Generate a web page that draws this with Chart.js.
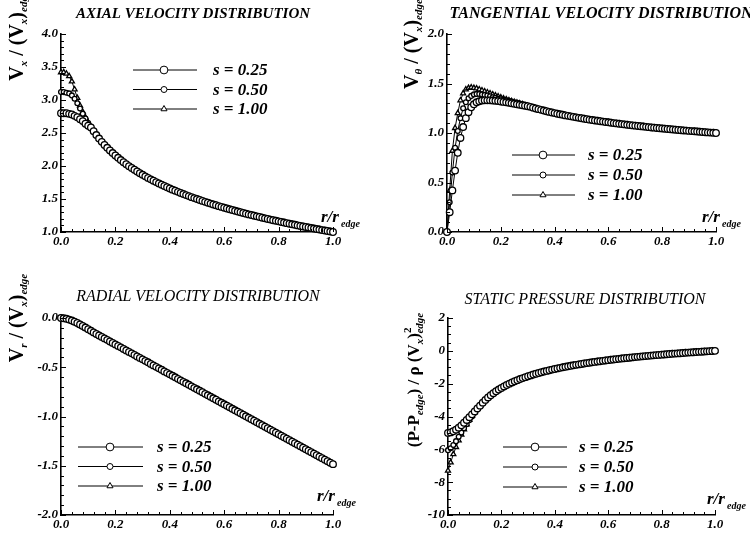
<!DOCTYPE html>
<html>
<head>
<meta charset="utf-8">
<script src="https://cdn.jsdelivr.net/npm/chart.js@4.4.0/dist/chart.umd.min.js"></script>
<style>
  body { margin: 0; background: #fff; }
  #wrap { position: relative; width: 750px; height: 540px; overflow: hidden; }
  .cell { position: absolute; width: 375px; height: 270px; }
  .ytitle {
    position: absolute; white-space: nowrap; color: #000;
    font: bold 20px "Liberation Serif", serif;
    transform: translate(-50%, -50%) rotate(-90deg);
  }
  .ytitle sub { font-size: 11px; font-style: italic; vertical-align: -4px; }
  .ytitle sup { font-size: 11px; vertical-align: 8px; }
  .xlab { position: absolute; white-space: nowrap; font: bold italic 17px "Liberation Serif", serif; }
  .xlab sub { font-size: 10px; vertical-align: -5px; margin-left: 2px; }
</style>
</head>
<body>
<div id="wrap">
  <div class="cell" style="left:0;top:0"><canvas id="c1" width="375" height="270"></canvas></div>
  <div class="cell" style="left:375px;top:0"><canvas id="c2" width="375" height="270"></canvas></div>
  <div class="cell" style="left:0;top:270px"><canvas id="c3" width="375" height="270"></canvas></div>
  <div class="cell" style="left:375px;top:270px"><canvas id="c4" width="375" height="270"></canvas></div>

  <div class="ytitle" style="left:17px;top:36px">V<sub>x</sub> / (V<sub>x</sub>)<sub>edge</sub></div>
  <div class="ytitle" style="left:412px;top:44px">V<sub>θ</sub> / (V<sub>x</sub>)<sub>edge</sub></div>
  <div class="ytitle" style="left:17px;top:318px">V<sub>r</sub> / (V<sub>x</sub>)<sub>edge</sub></div>
  <div class="ytitle" style="left:413px;top:380px;font-size:17px">(P-P<sub>edge</sub>) / ρ (V<sub>x</sub>)<sup>2</sup><sub style="margin-left:-6px">edge</sub></div>

  <div class="xlab" style="left:321px;top:207px">r/r<sub>edge</sub></div>
  <div class="xlab" style="left:702px;top:207px">r/r<sub>edge</sub></div>
  <div class="xlab" style="left:317px;top:486px">r/r<sub>edge</sub></div>
  <div class="xlab" style="left:707px;top:489px">r/r<sub>edge</sub></div>
</div>
<script>
// radial stations r/r_edge
const r = [
  0.00, 0.01, 0.02, 0.03, 0.04, 0.05, 0.06, 0.07, 0.08, 0.09,
  0.10, 0.11, 0.12, 0.13, 0.14, 0.15, 0.16, 0.17, 0.18, 0.19,
  0.20, 0.21, 0.22, 0.23, 0.24, 0.25, 0.26, 0.27, 0.28, 0.29,
  0.30, 0.31, 0.32, 0.33, 0.34, 0.35, 0.36, 0.37, 0.38, 0.39,
  0.40, 0.41, 0.42, 0.43, 0.44, 0.45, 0.46, 0.47, 0.48, 0.49,
  0.50, 0.51, 0.52, 0.53, 0.54, 0.55, 0.56, 0.57, 0.58, 0.59,
  0.60, 0.61, 0.62, 0.63, 0.64, 0.65, 0.66, 0.67, 0.68, 0.69,
  0.70, 0.71, 0.72, 0.73, 0.74, 0.75, 0.76, 0.77, 0.78, 0.79,
  0.80, 0.81, 0.82, 0.83, 0.84, 0.85, 0.86, 0.87, 0.88, 0.89,
  0.90, 0.91, 0.92, 0.93, 0.94, 0.95, 0.96, 0.97, 0.98, 0.99,
  1.00
];

// axial velocity: core r = 0..0.11 per s, then common part r = 0.12..1.00
const axialCore25  = [2.80, 2.80, 2.80, 2.79, 2.78, 2.76, 2.74, 2.71, 2.68, 2.64, 2.61, 2.585];
const axialCore50  = [3.12, 3.12, 3.11, 3.10, 3.07, 3.02, 2.95, 2.87, 2.79, 2.72, 2.65, 2.589];
const axialCore100 = [3.42, 3.42, 3.40, 3.36, 3.28, 3.16, 3.03, 2.915, 2.82, 2.735, 2.658, 2.589];
const axialOuter = [
  2.527, 2.469, 2.416, 2.366, 2.319, 2.276, 2.235, 2.196,
  2.159, 2.124, 2.090, 2.058, 2.028, 1.998, 1.970, 1.943, 1.917, 1.891,
  1.867, 1.843, 1.820, 1.798, 1.777, 1.756, 1.736, 1.716, 1.697, 1.678,
  1.660, 1.642, 1.625, 1.608, 1.591, 1.575, 1.559, 1.544, 1.528, 1.514,
  1.499, 1.485, 1.471, 1.457, 1.444, 1.430, 1.417, 1.405, 1.392, 1.380,
  1.368, 1.356, 1.344, 1.333, 1.321, 1.310, 1.299, 1.288, 1.278, 1.267,
  1.257, 1.247, 1.237, 1.227, 1.217, 1.207, 1.198, 1.188, 1.179, 1.170,
  1.161, 1.152, 1.143, 1.134, 1.126, 1.117, 1.109, 1.100, 1.092, 1.084,
  1.076, 1.068, 1.060, 1.052, 1.045, 1.037, 1.029, 1.022, 1.015, 1.007,
  1.000
];

// tangential velocity: core r = 0..0.30, then common part r = 0.31..1.00
const tangCore25 = [0, 0.20, 0.42, 0.62, 0.80, 0.95, 1.06, 1.15, 1.21, 1.26, 1.29, 1.31, 1.32, 1.328, 1.33, 1.33,
  1.33, 1.328, 1.325, 1.322, 1.318, 1.314, 1.310, 1.305, 1.300, 1.295, 1.290, 1.285, 1.280, 1.276, 1.270];
const tangCore50 = [0, 0.30, 0.60, 0.85, 1.02, 1.15, 1.25, 1.31, 1.35, 1.375, 1.39, 1.395, 1.395, 1.39, 1.385, 1.38,
  1.37, 1.36, 1.355, 1.345, 1.34, 1.335, 1.33, 1.325, 1.318, 1.311, 1.304, 1.297, 1.290, 1.281, 1.272];
const tangCore100 = [0, 0.42, 0.82, 1.05, 1.20, 1.33, 1.40, 1.44, 1.455, 1.46, 1.455, 1.45, 1.44, 1.43, 1.42, 1.41,
  1.40, 1.39, 1.38, 1.37, 1.36, 1.35, 1.34, 1.33, 1.322, 1.314, 1.306, 1.298, 1.290, 1.281, 1.272];
const tangOuter = [
  1.264, 1.256, 1.248, 1.241, 1.234, 1.227, 1.220, 1.213, 1.207,
  1.201, 1.195, 1.189, 1.184, 1.178, 1.173, 1.168, 1.163, 1.158, 1.153,
  1.149, 1.144, 1.140, 1.135, 1.131, 1.127, 1.123, 1.119, 1.115, 1.111,
  1.108, 1.104, 1.100, 1.097, 1.093, 1.090, 1.087, 1.083, 1.080, 1.077,
  1.074, 1.071, 1.068, 1.065, 1.062, 1.059, 1.056, 1.054, 1.051, 1.048,
  1.046, 1.043, 1.041, 1.038, 1.036, 1.033, 1.031, 1.028, 1.026, 1.024,
  1.021, 1.019, 1.017, 1.015, 1.012, 1.010, 1.008, 1.006, 1.004, 1.002,
  1.000
];

// radial velocity: core r = 0..0.11, then common part r = 0.12..1.00
const radCore25  = [0, -0.003, -0.008, -0.016, -0.026, -0.038, -0.051, -0.066, -0.081, -0.097, -0.113, -0.130];
const radCore50  = [0, -0.003, -0.009, -0.018, -0.029, -0.042, -0.056, -0.071, -0.086, -0.101, -0.116, -0.131];
const radCore100 = [0, -0.004, -0.011, -0.021, -0.033, -0.047, -0.061, -0.076, -0.091, -0.106, -0.121, -0.134];
const radOuter = [
  -0.146, -0.162, -0.177, -0.192, -0.207, -0.222, -0.238, -0.253,
  -0.268, -0.283, -0.298, -0.314, -0.329, -0.344, -0.359, -0.374, -0.390, -0.405,
  -0.420, -0.435, -0.450, -0.466, -0.481, -0.496, -0.511, -0.526, -0.542, -0.557,
  -0.572, -0.587, -0.602, -0.618, -0.633, -0.648, -0.663, -0.678, -0.694, -0.709,
  -0.724, -0.739, -0.754, -0.770, -0.785, -0.800, -0.815, -0.830, -0.846, -0.861,
  -0.876, -0.891, -0.906, -0.922, -0.937, -0.952, -0.967, -0.982, -0.998, -1.013,
  -1.028, -1.043, -1.058, -1.074, -1.089, -1.104, -1.119, -1.134, -1.150, -1.165,
  -1.180, -1.195, -1.210, -1.226, -1.241, -1.256, -1.271, -1.286, -1.302, -1.317,
  -1.332, -1.347, -1.362, -1.378, -1.393, -1.408, -1.423, -1.438, -1.454, -1.469,
  -1.484
];

// static pressure: core r = 0..0.12, then common part r = 0.13..1.00
const presCore25  = [-5.00, -4.97, -4.90, -4.80, -4.68, -4.54, -4.38, -4.21, -4.04, -3.87, -3.69, -3.51, -3.34];
const presCore50  = [-6.05, -5.93, -5.74, -5.50, -5.24, -4.98, -4.72, -4.47, -4.23, -4.00, -3.77, -3.55, -3.34];
const presCore100 = [-7.30, -6.80, -6.30, -5.86, -5.46, -5.10, -4.78, -4.48, -4.21, -3.96, -3.73, -3.53, -3.34];
const presOuter = [
  -3.155, -2.990, -2.840, -2.705, -2.578, -2.463, -2.357,
  -2.260, -2.167, -2.081, -2.000, -1.924, -1.853, -1.785, -1.720, -1.660, -1.602,
  -1.547, -1.495, -1.443, -1.395, -1.349, -1.305, -1.262, -1.221, -1.182, -1.143,
  -1.107, -1.071, -1.037, -1.004, -0.972, -0.941, -0.911, -0.882, -0.854, -0.825,
  -0.799, -0.773, -0.747, -0.723, -0.699, -0.675, -0.653, -0.630, -0.609, -0.587,
  -0.567, -0.547, -0.527, -0.508, -0.488, -0.470, -0.452, -0.434, -0.417, -0.400,
  -0.383, -0.367, -0.351, -0.335, -0.320, -0.305, -0.290, -0.276, -0.261, -0.247,
  -0.233, -0.220, -0.207, -0.193, -0.181, -0.168, -0.155, -0.143, -0.131, -0.119,
  -0.108, -0.096, -0.085, -0.074, -0.063, -0.052, -0.041, -0.031, -0.020, -0.010,
  0
];

const seriesLabels = ['s = 0.25', 's = 0.50', 's = 1.00'];
const xTicks = [0, 0.2, 0.4, 0.6, 0.8, 1.0];

const SERIF = '"Liberation Serif", "Times New Roman", serif';
const markers = [
  { pointStyle: 'circle', radius: 3.3 },
  { pointStyle: 'circle', radius: 2.4 },
  { pointStyle: 'triangle', radius: 2.9 }
];

function toPoints(ys) {
  return ys.map(function (y, i) { return { x: r[i], y: y }; });
}

function makeSets(list) {
  return list.map(function (ys, k) {
    return {
      label: seriesLabels[k],
      data: toPoints(ys),
      borderColor: '#000',
      borderWidth: 1,
      tension: 0,
      pointStyle: markers[k].pointStyle,
      pointRadius: markers[k].radius,
      pointBackgroundColor: '#fff',
      pointBorderColor: '#000',
      pointBorderWidth: 1.3,
      clip: false
    };
  });
}

// titles, legend inside the plot and inward tick marks
const decor = {
  id: 'decor',
  afterDraw(chart, args, o) {
    const ctx = chart.ctx;
    const xs = chart.scales.x, ys = chart.scales.y;
    const area = chart.chartArea;
    ctx.save();
    ctx.strokeStyle = '#000';
    ctx.lineWidth = 1;
    // x ticks every 0.04
    for (let i = 0; i <= 25; i++) {
      const px = Math.round(xs.getPixelForValue(i * 0.04)) + 0.5;
      const len = (i % 5 === 0) ? 5 : 3;
      ctx.beginPath();
      ctx.moveTo(px, area.bottom);
      ctx.lineTo(px, area.bottom - len);
      ctx.stroke();
    }
    // y ticks
    const n = Math.round((o.yMax - o.yMin) / o.yMinor);
    for (let i = 0; i <= n; i++) {
      const v = o.yMin + i * o.yMinor;
      const q = v / o.yMajor;
      const len = Math.abs(q - Math.round(q)) < 1e-6 ? 5 : 3;
      const py = Math.round(ys.getPixelForValue(v)) + 0.5;
      ctx.beginPath();
      ctx.moveTo(area.left, py);
      ctx.lineTo(area.left + len, py);
      ctx.stroke();
    }
    // title
    ctx.fillStyle = '#000';
    ctx.font = o.titleFont;
    ctx.textAlign = 'center';
    ctx.textBaseline = 'middle';
    ctx.fillText(o.title, o.titleX, o.titleY);
    // legend
    ctx.textAlign = 'left';
    ctx.font = 'italic bold 17px ' + SERIF;
    for (let k = 0; k < 3; k++) {
      const y = o.leg.y + k * o.leg.dy;
      ctx.beginPath();
      ctx.moveTo(o.leg.x1, y);
      ctx.lineTo(o.leg.x2, y);
      ctx.stroke();
      ctx.fillStyle = '#fff';
      Chart.helpers.drawPoint(ctx, { pointStyle: markers[k].pointStyle, radius: markers[k].radius + 0.6, borderWidth: 1, rotation: 0 }, o.leg.xm, y);
      ctx.fillStyle = '#000';
      ctx.fillText(seriesLabels[k], o.leg.xt, y + 1);
    }
    ctx.restore();
  }
};

function makePanel(id, sets, c) {
  const tickFont = { family: SERIF, size: 13, style: 'italic', weight: 'bold' };
  return new Chart(document.getElementById(id), {
    type: 'line',
    data: { datasets: sets },
    plugins: [decor],
    options: {
      responsive: false,
      animation: false,
      devicePixelRatio: 1,
      layout: {
        padding: { left: c.area[0] - 40, top: c.area[1], right: 375 - c.area[2], bottom: 270 - c.area[3] - 20 }
      },
      plugins: {
        legend: { display: false },
        tooltip: { enabled: false },
        decor: {
          title: c.title, titleFont: c.titleFont, titleX: c.titleX, titleY: c.titleY,
          leg: c.leg, yMin: c.yMin, yMax: c.yMax, yMinor: c.yMinor, yMajor: c.yStep
        }
      },
      scales: {
        x: {
          type: 'linear', min: 0, max: 1,
          afterFit: function (s) { s.height = 20; },
          afterBuildTicks: function (s) { s.ticks = xTicks.map(function (v) { return { value: v }; }); },
          grid: { drawOnChartArea: false, drawTicks: false },
          border: { display: true, color: '#000', width: 1.6 },
          ticks: { color: '#000', font: tickFont, padding: 2, maxRotation: 0,
            callback: function (v) { return v.toFixed(1); } }
        },
        y: {
          type: 'linear', min: c.yMin, max: c.yMax,
          afterFit: function (s) { s.width = 40; },
          grid: { drawOnChartArea: false, drawTicks: false },
          border: { display: true, color: '#000', width: 1.6 },
          ticks: { color: '#000', font: tickFont, padding: 3, stepSize: c.yStep,
            callback: function (v) { return c.yDigits ? v.toFixed(c.yDigits) : String(v); } }
        }
      }
    }
  });
}

makePanel('c1', makeSets([
  axialCore25.concat(axialOuter), axialCore50.concat(axialOuter), axialCore100.concat(axialOuter)
]), {
  area: [61, 34, 333, 232], yMin: 1, yMax: 4, yStep: 0.5, yMinor: 0.1, yDigits: 1,
  title: 'AXIAL VELOCITY DISTRIBUTION', titleFont: 'italic bold 15px ' + SERIF, titleX: 193, titleY: 14,
  leg: { x1: 133, x2: 197, xm: 164, xt: 213, y: 70, dy: 19.5 }
});

makePanel('c2', makeSets([
  tangCore25.concat(tangOuter), tangCore50.concat(tangOuter), tangCore100.concat(tangOuter)
]), {
  area: [72, 34, 341, 232], yMin: 0, yMax: 2, yStep: 0.5, yMinor: 0.1, yDigits: 1,
  title: 'TANGENTIAL VELOCITY DISTRIBUTION', titleFont: 'italic bold 16px ' + SERIF, titleX: 226, titleY: 14,
  leg: { x1: 137, x2: 200, xm: 168, xt: 213, y: 155, dy: 20 }
});

makePanel('c3', makeSets([
  radCore25.concat(radOuter), radCore50.concat(radOuter), radCore100.concat(radOuter)
]), {
  area: [61, 48, 333, 245], yMin: -2, yMax: 0, yStep: 0.5, yMinor: 0.1, yDigits: 1,
  title: 'RADIAL VELOCITY DISTRIBUTION', titleFont: 'italic 16px ' + SERIF, titleX: 198, titleY: 27,
  leg: { x1: 78, x2: 143, xm: 110, xt: 157, y: 177, dy: 19.5 }
});

makePanel('c4', makeSets([
  presCore25.concat(presOuter), presCore50.concat(presOuter), presCore100.concat(presOuter)
]), {
  area: [73, 48, 340, 245], yMin: -10, yMax: 2, yStep: 2, yMinor: 0.5, yDigits: 0,
  title: 'STATIC PRESSURE DISTRIBUTION', titleFont: 'italic 16px ' + SERIF, titleX: 210, titleY: 30,
  leg: { x1: 128, x2: 192, xm: 160, xt: 204, y: 177, dy: 20 }
});
</script>
</body>
</html>
